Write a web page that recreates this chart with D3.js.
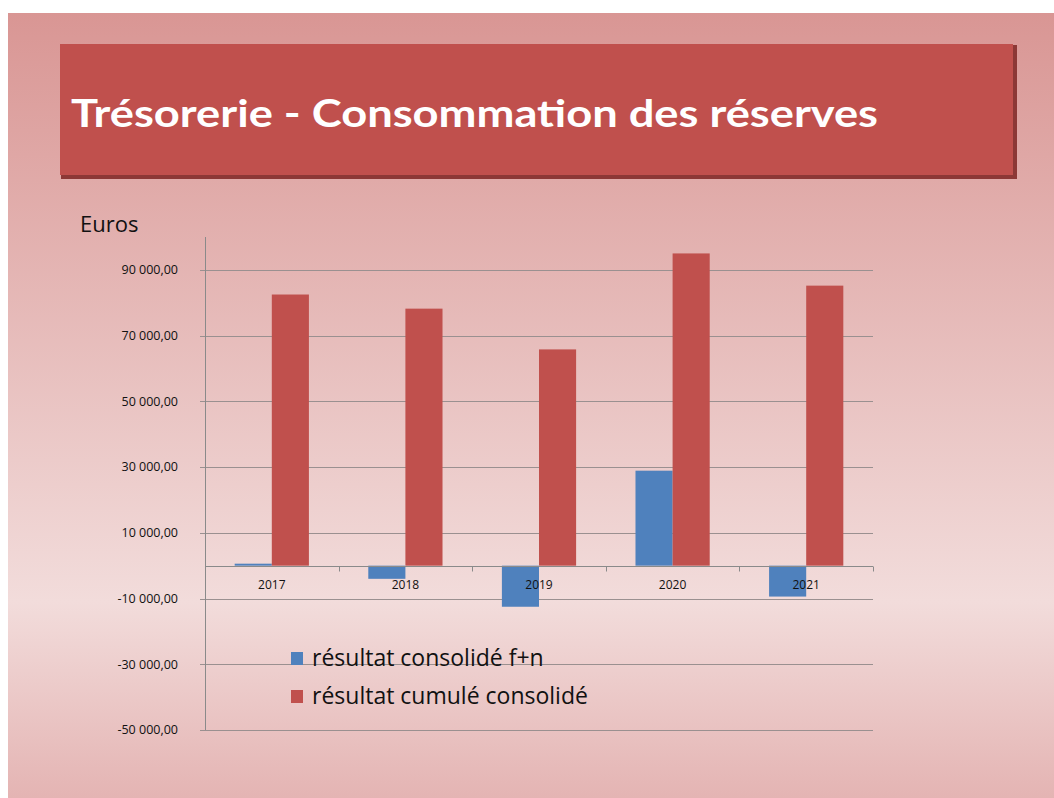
<!DOCTYPE html>
<html>
<head>
<meta charset="utf-8">
<script src="https://cdn.jsdelivr.net/npm/d3@7"></script>
<style>
  body { margin: 0; background: #fff; }
  svg { display: block; }
</style>
</head>
<body>
<div id="chart"></div>
<script>
const years = ["2017", "2018", "2019", "2020", "2021"];
const seriesNames = ["résultat consolidé f+n", "résultat cumulé consolidé"];
const consolide = [600, -4000, -12500, 28900, -9400];
const cumule = [82500, 78200, 65800, 95000, 85200];
const yTicks = [-50000, -30000, -10000, 10000, 30000, 50000, 70000, 90000];

const width = 1054, height = 798;
const colors = ["#4f81bd", "#c0504d"];

const svg = d3.select("#chart").append("svg")
  .attr("width", width)
  .attr("height", height);

const defs = svg.append("defs");
const bg = defs.append("linearGradient")
  .attr("id", "bg")
  .attr("x1", 0).attr("y1", 0).attr("x2", 0).attr("y2", 1);
bg.append("stop").attr("offset", "0%").attr("stop-color", "#d99694");
bg.append("stop").attr("offset", "75%").attr("stop-color", "#f2dcdb");
bg.append("stop").attr("offset", "100%").attr("stop-color", "#e4b4b3");

// slide background
svg.append("rect")
  .attr("x", 8).attr("y", 13)
  .attr("width", width - 8).attr("height", height - 13)
  .attr("fill", "url(#bg)");

// title box
svg.append("rect")
  .attr("x", 61).attr("y", 45)
  .attr("width", 956).attr("height", 134)
  .attr("fill", "#8c3836");
svg.append("rect")
  .attr("x", 60).attr("y", 44)
  .attr("width", 953).attr("height", 131)
  .attr("fill", "#c0504d");

svg.append("text")
  .attr("x", 71).attr("y", 127)
  .attr("textLength", 807)
  .attr("lengthAdjust", "spacingAndGlyphs")
  .style("font-family", "'Comic Sans MS', Lato, sans-serif")
  .style("font-weight", "bold")
  .style("font-size", "38px")
  .attr("fill", "#fff")
  .text("Trésorerie - Consommation des réserves");

// chart
const x0 = 205, x1 = 873;
const y = d3.scaleLinear().domain([-50000, 100000]).range([730, 237]);
const x = d3.scaleBand().domain(years).range([x0, x1]).paddingInner(0).paddingOuter(0);
const xs = d3.scaleBand().domain([0, 1]).range([0, x.bandwidth()]).paddingOuter(0.8).paddingInner(0);

svg.append("text")
  .attr("x", 80).attr("y", 232)
  .style("font-family", "'Open Sans', sans-serif")
  .style("font-size", "22px")
  .attr("fill", "#111")
  .text("Euros");

// gridlines
svg.append("g")
  .selectAll("line")
  .data(yTicks)
  .join("line")
  .attr("x1", x0 - 5).attr("x2", x1)
  .attr("y1", d => Math.round(y(d)) + 0.5)
  .attr("y2", d => Math.round(y(d)) + 0.5)
  .attr("stroke", "#9a9090")
  .attr("stroke-width", 1);

// y tick labels
svg.append("g")
  .selectAll("text")
  .data(yTicks)
  .join("text")
  .attr("x", 178)
  .attr("y", d => y(d))
  .attr("dy", "0.35em")
  .attr("text-anchor", "end")
  .style("font-family", "'Open Sans', sans-serif")
  .style("font-size", "12.5px")
  .attr("fill", "#111")
  .text(d => d3.format(",.2f")(d).replace(/,/g, " ").replace(".", ",").replace("−", "-"));

// y axis line
svg.append("line")
  .attr("x1", x0 + 0.5).attr("x2", x0 + 0.5)
  .attr("y1", y(100000)).attr("y2", y(-50000))
  .attr("stroke", "#8a8a8a");

// bars
const groups = svg.append("g")
  .selectAll("g")
  .data(years)
  .join("g")
  .attr("transform", d => `translate(${x(d)},0)`);

groups.selectAll("rect")
  .data((d, i) => [consolide[i], cumule[i]])
  .join("rect")
  .attr("x", (d, j) => xs(j))
  .attr("width", xs.bandwidth())
  .attr("y", d => y(Math.max(0, d)))
  .attr("height", d => Math.abs(y(d) - y(0)))
  .attr("fill", (d, j) => colors[j]);

// x axis line at zero with ticks
const xAxisY = Math.round(y(0)) + 0.5;
svg.append("line")
  .attr("x1", x0).attr("x2", x1)
  .attr("y1", xAxisY).attr("y2", xAxisY)
  .attr("stroke", "#8a8a8a");
svg.append("g")
  .selectAll("line")
  .data(years.map(d => x(d) + x.bandwidth()))
  .join("line")
  .attr("x1", d => Math.round(d) + 0.5).attr("x2", d => Math.round(d) + 0.5)
  .attr("y1", xAxisY).attr("y2", xAxisY + 5)
  .attr("stroke", "#8a8a8a");

svg.append("g")
  .selectAll("text")
  .data(years)
  .join("text")
  .attr("x", d => x(d) + x.bandwidth() / 2)
  .attr("y", 589)
  .attr("text-anchor", "middle")
  .style("font-family", "'Open Sans', sans-serif")
  .style("font-size", "12px")
  .attr("fill", "#111")
  .text(d => d);

// legend
const legend = svg.append("g").attr("transform", "translate(291,652)");
seriesNames.forEach((name, i) => {
  const row = legend.append("g").attr("transform", `translate(0,${i * 38})`);
  row.append("rect")
    .attr("width", 12).attr("height", 13)
    .attr("fill", colors[i]);
  row.append("text")
    .attr("x", 21).attr("y", 14)
    .style("font-family", "'Open Sans', sans-serif")
    .style("font-size", "23px")
    .attr("fill", "#111")
    .text(name);
});
</script>
</body>
</html>
